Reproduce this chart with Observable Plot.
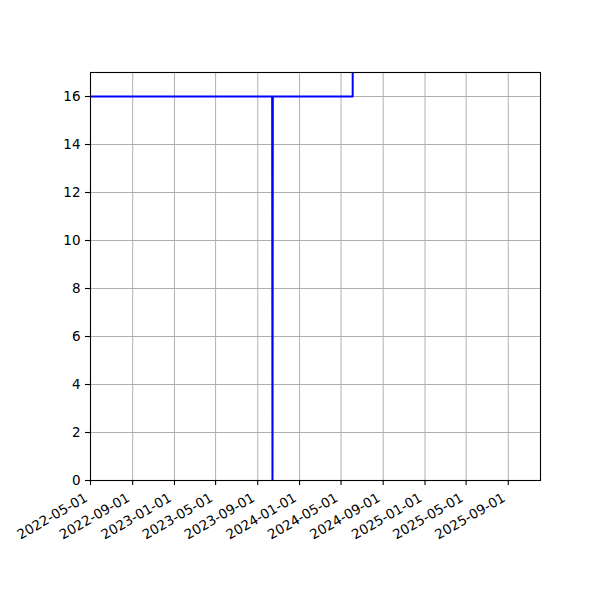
<!DOCTYPE html>
<html><head><meta charset="utf-8">
<script src="https://cdn.jsdelivr.net/npm/d3@7"></script>
<script src="https://cdn.jsdelivr.net/npm/@observablehq/plot@0.6"></script>
<style>body{margin:0;background:#fff}</style>
</head><body><div id="chart"></div>
<script>
const dates = ["2022-05-01", "2023-10-13", "2023-10-14", "2023-10-15", "2024-06-04", "2024-06-05"];
const values = [16, 16, 0, 16, 16, 32];
const xTickLabels = ["2022-05-01", "2022-09-01", "2023-01-01", "2023-05-01", "2023-09-01", "2024-01-01", "2024-05-01", "2024-09-01", "2025-01-01", "2025-05-01", "2025-09-01"];
const yTicks = [0, 2, 4, 6, 8, 10, 12, 14, 16];
const xDomain = ["2022-05-01", "2025-12-04"];
const yDomain = [0, 17];

const parse = s => new Date(s + "T00:00:00Z");
const data = dates.map((d, i) => ({date: parse(d), value: values[i]}));
const xTicks = xTickLabels.map(parse);
const fmt = d3.utcFormat("%Y-%m-%d");

const chart = Plot.plot({
  width: 600, height: 600,
  marginLeft: 90, marginRight: 60, marginTop: 72, marginBottom: 120,
  style: {fontFamily: "DejaVu Sans", fontSize: "13.5px", background: "#fff", color: "#000"},
  x: {type: "utc", domain: xDomain.map(parse)},
  y: {domain: yDomain},
  marks: [
    Plot.gridX(xTicks, {stroke: "#b0b0b0", strokeOpacity: 1, strokeWidth: 1}),
    Plot.gridY(yTicks, {stroke: "#b0b0b0", strokeOpacity: 1, strokeWidth: 1}),
    Plot.line(data, {x: "date", y: "value", stroke: "#0000ff", strokeWidth: 2, clip: true}),
    Plot.frame({stroke: "#000", strokeWidth: 1.1}),
    Plot.axisY(yTicks, {tickSize: 5, tickPadding: 5, label: null, stroke: "#000", strokeWidth: 1.1}),
    Plot.axisX(xTicks, {tickSize: 5, label: null, tickFormat: () => "", stroke: "#000", strokeWidth: 1.1}),
    Plot.text(xTicks, {x: d => d, frameAnchor: "bottom", text: d => fmt(d), rotate: -30, textAnchor: "end", lineAnchor: "bottom", dx: -2, dy: 20, fill: "#000"})
  ]
});
document.getElementById("chart").appendChild(chart);
</script>
</body></html>
